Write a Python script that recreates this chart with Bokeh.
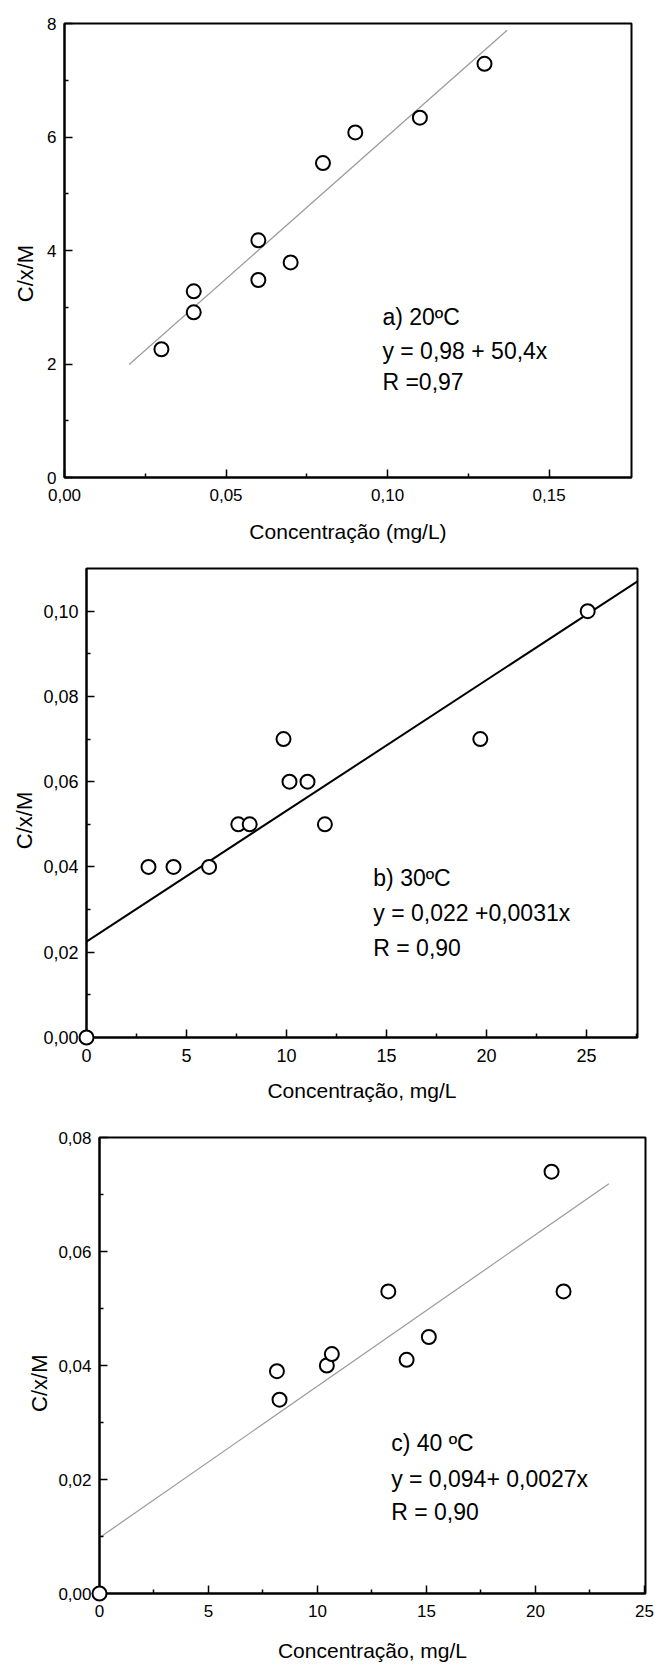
import math
from bokeh.plotting import figure
from bokeh.models import Range1d, FixedTicker
from bokeh.core.properties import value
from bokeh.embed import file_html
from bokeh.resources import INLINE

FONT = "Liberation Sans"

# ---------------- data ----------------
# panel a) 20 ºC
a_x = [0.03, 0.04, 0.04, 0.06, 0.06, 0.07, 0.08, 0.09, 0.11, 0.13]
a_y = [2.26, 2.91, 3.28, 3.48, 4.18, 3.79, 5.54, 6.08, 6.34, 7.29]
a_fit_x = [0.02, 0.137]
a_fit_y = [1.99, 7.88]
a_xticks = [0, 0.05, 0.10, 0.15]
a_xlabels = ["0,00", "0,05", "0,10", "0,15"]
a_xminor = [0.025, 0.075, 0.125]
a_yticks = [0, 2, 4, 6, 8]
a_ylabels = ["0", "2", "4", "6", "8"]
a_yminor = [1, 3, 5, 7]
a_text = ["a)  20ºC", "y = 0,98 + 50,4x", "R =0,97"]
a_xtitle = "Concentração (mg/L)"

# panel b) 30 ºC
b_x = [0, 3.1, 4.35, 6.13, 7.59, 8.16, 9.85, 10.15, 11.05, 11.92, 19.69, 25.06]
b_y = [0, 0.04, 0.04, 0.04, 0.05, 0.05, 0.07, 0.06, 0.06, 0.05, 0.07, 0.10]
b_fit_x = [0, 27.55]
b_fit_y = [0.0225, 0.107]
b_xticks = [0, 5, 10, 15, 20, 25]
b_xlabels = ["0", "5", "10", "15", "20", "25"]
b_xminor = [2.5, 7.5, 12.5, 17.5, 22.5, 27.5]
b_yticks = [0, 0.02, 0.04, 0.06, 0.08, 0.10]
b_ylabels = ["0,00", "0,02", "0,04", "0,06", "0,08", "0,10"]
b_yminor = [0.01, 0.03, 0.05, 0.07, 0.09]
b_text = ["b) 30ºC", "y = 0,022 +0,0031x", "R = 0,90"]
b_xtitle = "Concentração, mg/L"

# panel c) 40 ºC
c_x = [0, 8.14, 8.26, 10.43, 10.66, 13.25, 14.09, 15.11, 20.74, 21.29]
c_y = [0, 0.039, 0.034, 0.040, 0.042, 0.053, 0.041, 0.045, 0.074, 0.053]
c_fit_x = [0, 23.37]
c_fit_y = [0.0098, 0.0719]
c_xticks = [0, 5, 10, 15, 20, 25]
c_xlabels = ["0", "5", "10", "15", "20", "25"]
c_xminor = [2.5, 7.5, 12.5, 17.5, 22.5]
c_yticks = [0, 0.02, 0.04, 0.06, 0.08]
c_ylabels = ["0,00", "0,02", "0,04", "0,06", "0,08"]
c_yminor = [0.01, 0.03, 0.05, 0.07]
c_text = ["c) 40 ºC", "y = 0,094+ 0,0027x", "R = 0,90"]
c_xtitle = "Concentração, mg/L"

ytitle = "C/x/M"


def make_panel(height, xmax, ymax, borders, xticks, xlabels, xminor,
               yticks, ylabels, yminor, xs, ys, fx, fy, fit_color, fit_width,
               texts, text_pos, xtitle, ytitle_pos, x_std, xt_std, tick_fs):
    left, right, top, bottom = borders
    p = figure(width=655, height=height, output_backend="svg",
               toolbar_location=None,
               x_range=Range1d(0, xmax), y_range=Range1d(0, ymax),
               min_border_left=left, min_border_right=right,
               min_border_top=top, min_border_bottom=bottom)
    p.grid.visible = False
    p.outline_line_color = "black"
    p.outline_line_width = 2
    p.background_fill_color = "white"
    p.border_fill_color = "white"

    p.xaxis.ticker = FixedTicker(ticks=xticks, minor_ticks=xminor)
    p.yaxis.ticker = FixedTicker(ticks=yticks, minor_ticks=yminor)
    p.xaxis.major_label_overrides = {float(t): l for t, l in zip(xticks, xlabels)}
    p.yaxis.major_label_overrides = {float(t): l for t, l in zip(yticks, ylabels)}
    for ax in (p.xaxis, p.yaxis):
        ax.axis_line_width = 2
        ax.axis_line_color = "black"
        ax.major_tick_in = 8
        ax.major_tick_out = 0
        ax.minor_tick_in = 4
        ax.minor_tick_out = 0
        ax.major_tick_line_width = 1.5
        ax.minor_tick_line_width = 1.5
        ax.major_label_text_font = FONT
        ax.major_label_text_font_size = tick_fs
        ax.major_label_text_color = "black"
    p.yaxis.major_label_standoff = 8
    p.xaxis.major_label_standoff = x_std
    p.xaxis.axis_label = xtitle
    p.xaxis.axis_label_text_font = FONT
    p.xaxis.axis_label_text_font_size = "21px"
    p.xaxis.axis_label_text_font_style = "normal"
    p.xaxis.axis_label_text_color = "black"
    p.xaxis.axis_label_standoff = xt_std

    p.line(fx, fy, line_color=fit_color, line_width=fit_width)
    p.scatter(xs, ys, marker="circle", size=14, fill_color="white",
              line_color="black", line_width=2, level="overlay")

    tx, ty = text_pos
    p.text(x=[tx] * len(texts), y=ty, text=texts,
           text_font=value(FONT), text_font_size="23px",
           text_baseline="middle", text_align="left", text_color="black")

    yx, yy = ytitle_pos
    p.text(x=[yx], y=[yy], text=[ytitle], angle=math.pi / 2,
           text_font=value(FONT), text_font_size="22px",
           text_align="center", text_baseline="middle", text_color="black",
           level="overlay")
    return p


pa = make_panel(550, 0.1755, 8, (64, 24, 23, 73),
                a_xticks, a_xlabels, a_xminor, a_yticks, a_ylabels, a_yminor,
                a_x, a_y, a_fit_x, a_fit_y, "#9a9a9a", 1.2,
                a_text, (0.0984, [2.823, 2.236, 1.676]), a_xtitle,
                (-0.0122, 3.594), 11, 16, "17px")

pb = make_panel(562, 27.55, 0.11, (86, 18, 18, 75),
                b_xticks, b_xlabels, b_xminor, b_yticks, b_ylabels, b_yminor,
                b_x, b_y, b_fit_x, b_fit_y, "black", 2,
                b_text, (14.34, [0.0375, 0.0293, 0.0211]), b_xtitle,
                (-3.08, 0.0509), 11, 14, "18px")

pc = make_panel(552, 25.05, 0.08, (99, 10, 25, 70),
                c_xticks, c_xlabels, c_xminor, c_yticks, c_ylabels, c_yminor,
                c_x, c_y, c_fit_x, c_fit_y, "#9a9a9a", 1.2,
                c_text, (13.38, [0.0264, 0.0201, 0.01435]), c_xtitle,
                (-2.74, 0.0369), 11, 19, "17px")

p = [pa, pb, pc]
open("out.html", "w").write(file_html(p, INLINE))
